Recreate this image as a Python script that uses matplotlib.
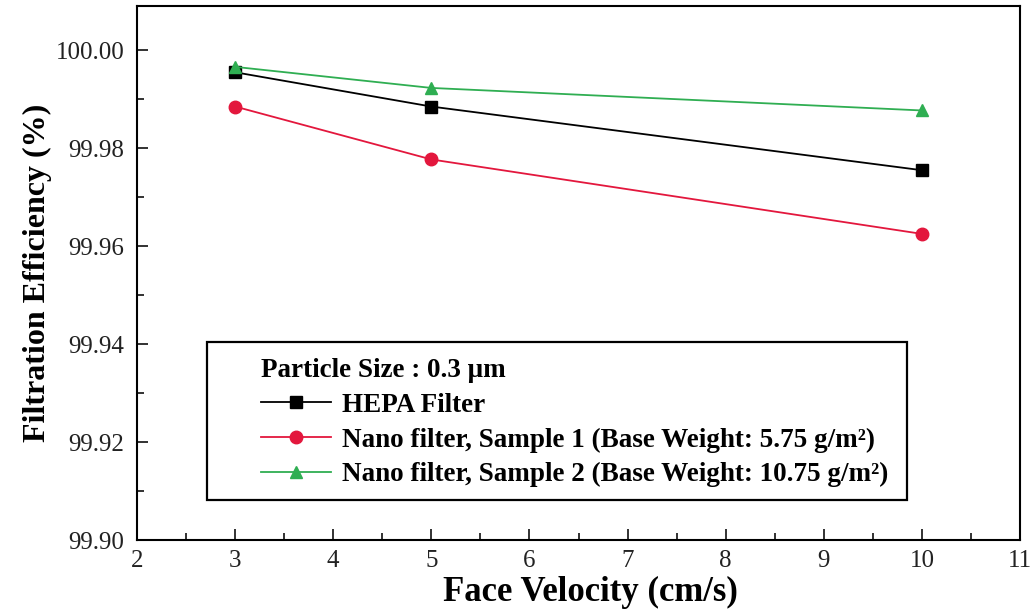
import matplotlib
matplotlib.use("Agg")
import matplotlib.pyplot as plt
from matplotlib.patches import Rectangle
from matplotlib.ticker import MultipleLocator, FormatStrFormatter

plt.rcParams['font.family'] = ['Liberation Serif', 'DejaVu Serif']

# Face velocity (cm/s) and filtration efficiency (%) for each filter
velocity = [3, 5, 10]
hepa = [99.9955, 99.9885, 99.9755]
nano1 = [99.9885, 99.9777, 99.9625]
nano2 = [99.9966, 99.9923, 99.9877]

labels = ['HEPA Filter',
          'Nano filter, Sample 1 (Base Weight: 5.75 g/m²)',
          'Nano filter, Sample 2 (Base Weight: 10.75 g/m²)']

fig = plt.figure(figsize=(10.34, 6.14), dpi=100)
ax = fig.add_axes([0.1325, 0.1205, 0.854, 0.8695])

ax.plot(velocity, hepa, color='black', marker='s', markersize=8, lw=1.3, label=labels[0])
ax.plot(velocity, nano1, color='#e3173d', marker='o', markersize=9, lw=1.3, label=labels[1])
ax.plot(velocity, nano2, color='#2fae52', marker='^', markersize=9, lw=1.3, label=labels[2])

ax.set_xlim(2, 11)
ax.set_ylim(99.90, 100.009)
ax.xaxis.set_major_locator(MultipleLocator(1))
ax.xaxis.set_minor_locator(MultipleLocator(0.5))
ax.yaxis.set_major_locator(MultipleLocator(0.02))
ax.yaxis.set_minor_locator(MultipleLocator(0.01))
ax.yaxis.set_major_formatter(FormatStrFormatter('%.2f'))
ax.tick_params(which='both', direction='in', width=1.3, labelsize=18, colors='#222222')
ax.tick_params(which='major', length=8)
ax.tick_params(which='minor', length=5)
ax.tick_params(axis='x', pad=7)
ax.tick_params(axis='y', pad=9)
for s in ax.spines.values():
    s.set_linewidth(1.5)

ax.set_xlabel('Face Velocity (cm/s)', fontsize=25, fontweight='bold')
ax.xaxis.set_label_coords(0.513, -0.068)
ax.set_ylabel('Filtration Efficiency (%)', fontsize=23, fontweight='bold', labelpad=3)

# legend box drawn separately so the inner margins can differ
ax.add_patch(Rectangle((0.0793, 0.0749), 0.793, 0.296, transform=ax.transAxes,
                       facecolor='white', edgecolor='black', lw=1.6, zorder=4))
leg = ax.legend(loc='upper left', bbox_to_anchor=(0.14, 0.341),
                title='Particle Size : 0.3 μm', alignment='left',
                prop={'size': 19.5, 'weight': 'bold'}, handlelength=2.6,
                handletextpad=0.4, borderpad=0, borderaxespad=0,
                labelspacing=0.36, frameon=False)
leg.get_title().set_fontsize(19.5)
leg.get_title().set_fontweight('bold')
leg.set_zorder(5)

fig.savefig('out.png', dpi=100)
